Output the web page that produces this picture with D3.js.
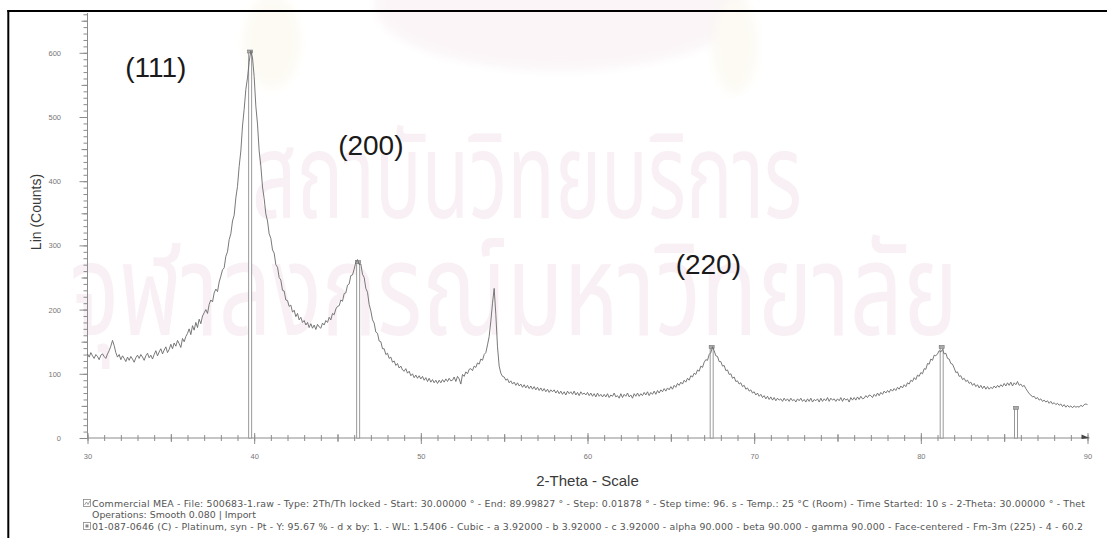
<!DOCTYPE html>
<html>
<head>
<meta charset="utf-8">
<script src="https://cdn.jsdelivr.net/npm/d3@7"></script>
<style>
  body { margin: 0; background: #fff; }
  svg { display: block; font-family: "Liberation Sans", Arial, sans-serif; }
</style>
</head>
<body>
<svg id="chart" width="1107" height="538"></svg>
<script>
// Scan: 2-theta from 30.0 deg in 0.1 deg steps, intensity in counts
const scanStart = 30.0;
const scanStep = 0.1;
const counts = [
  131,126,133,128,124,130,127,122,129,131,
  127,124,131,136,143,152,144,133,126,130,
  122,128,124,119,126,121,127,123,118,125,
  129,124,130,126,121,128,132,125,129,123,
  130,136,128,134,139,131,137,142,133,138,
  146,139,148,143,152,147,141,155,150,158,
  163,170,161,175,168,180,172,185,178,190,
  195,200,194,208,215,212,226,232,228,243,
  252,262,265,283,290,309,318,338,347,374,
  392,423,447,486,512,543,561,586,603,592,
  563,517,489,447,424,391,373,349,338,318,
  311,293,288,270,266,250,246,230,229,215,
  214,205,207,196,199,189,194,184,188,180,
  183,176,180,172,178,171,176,169,177,173,
  171,179,176,183,180,188,184,194,192,201,
  205,206,215,213,225,226,238,240,253,254,
  263,274,278,270,271,255,250,233,227,208,
  198,184,179,165,163,151,150,139,139,130,
  132,124,126,118,120,113,116,109,112,106,
  104,108,101,104,97,100,94,98,93,97,
  92,96,90,94,88,93,87,91,86,90,
  85,90,86,91,87,92,88,93,89,90,
  95,88,96,92,84,99,96,103,100,107,
  108,105,112,110,117,115,123,121,130,133,
  145,158,182,210,233,192,142,112,101,96,
  95,90,92,86,89,84,87,82,86,81,
  84,79,83,78,82,77,81,76,80,75,
  79,74,78,73,77,72,76,71,75,72,
  75,70,74,69,73,68,72,67,73,69,
  72,68,73,67,71,66,72,68,70,67,
  71,66,70,65,69,64,70,65,68,64,
  68,64,69,63,67,65,70,64,66,62,
  69,63,68,65,70,64,67,62,69,65,
  70,65,69,66,71,67,72,66,71,68,
  73,68,74,70,75,72,77,73,78,75,
  80,76,82,79,85,82,87,84,90,87,
  93,90,97,95,101,99,106,104,112,110,
  118,122,121,130,133,142,136,128,127,119,
  119,112,113,105,106,99,100,93,95,88,
  89,84,86,80,82,76,78,73,75,70,
  72,67,70,65,68,63,66,61,65,60,
  64,59,63,58,62,59,61,57,62,58,
  61,57,62,58,60,56,61,58,62,57,
  60,56,61,57,62,56,60,58,61,56,
  62,57,61,58,63,57,62,59,61,57,
  61,58,63,57,62,59,61,56,63,59,
  63,59,64,60,65,61,62,66,63,67,
  66,63,68,65,70,66,71,68,73,70,
  74,71,76,73,77,74,79,76,81,78,
  83,80,86,84,90,88,94,91,98,96,
  102,100,108,107,116,115,123,121,129,128,
  131,136,134,138,131,132,124,123,116,115,
  109,102,103,96,97,91,93,88,90,85,
  87,82,85,80,83,78,82,77,81,76,
  80,76,79,77,81,78,82,79,83,80,
  85,81,86,82,87,81,86,83,88,82,
  84,80,82,77,73,69,67,64,65,61,
  63,59,61,57,59,56,58,54,57,53,
  55,52,54,51,53,49,52,48,51,48,
  50,47,50,48,49,48,51,49,52,53,
  52
];

// Reference pattern 01-087-0646 (Platinum) stick lines
const refTwoTheta = [39.76, 46.24, 67.45, 81.25, 85.71];
const refCounts = [602, 274, 142, 142, 47];

// Miller-index labels
const hklText = ["(111)", "(200)", "(220)"];
const hklTwoTheta = [34.1, 47.0, 67.25];
const hklCounts = [563, 441, 255];

// Axis ticks
const xMajorTicks = [30, 40, 50, 60, 70, 80, 90];
const yMajorTicks = [0, 100, 200, 300, 400, 500, 600];

const axisTitleX = "2-Theta - Scale";
const axisTitleY = "Lin (Counts)";
const footerLines = [
  "Commercial MEA - File: 500683-1.raw - Type: 2Th/Th locked - Start: 30.00000 \u00b0 - End: 89.99827 \u00b0 - Step: 0.01878 \u00b0 - Step time: 96. s - Temp.: 25 \u00b0C (Room) - Time Started: 10 s - 2-Theta: 30.00000 \u00b0 - Thet",
  "Operations: Smooth 0.080 | Import",
  "01-087-0646 (C) - Platinum, syn - Pt - Y: 95.67 % - d x by: 1. - WL: 1.5406 - Cubic - a 3.92000 - b 3.92000 - c 3.92000 - alpha 90.000 - beta 90.000 - gamma 90.000 - Face-centered - Fm-3m (225) - 4 - 60.2"
];
const watermarkLines = ["สถาบันวิทยบริการ", "จุฬาลงกรณ์มหาวิทยาลัย"];

const svg = d3.select("#chart");
const x = d3.scaleLinear().domain([30, 90]).range([87.5, 1087.5]);
const y = d3.scaleLinear().domain([0, 662]).range([438, 13]);

// ---- background watermark ----
const defs = svg.append("defs");
defs.append("filter").attr("id", "soft").append("feGaussianBlur").attr("stdDeviation", 5);
const emblem = svg.append("g").attr("filter", "url(#soft)");
emblem.append("ellipse").attr("cx", 560).attr("cy", 5).attr("rx", 185).attr("ry", 65).attr("fill", "#fbf5f7");
emblem.append("ellipse").attr("cx", 272).attr("cy", 42).attr("rx", 28).attr("ry", 46).attr("fill", "#fcfaf3");
emblem.append("ellipse").attr("cx", 735).attr("cy", 45).attr("rx", 22).attr("ry", 48).attr("fill", "#fcfaf3");

const wm = svg.append("g").attr("fill", "#f8f0f4")
  .style("font-family", "'Noto Sans Thai','Noto Sans','DejaVu Sans',sans-serif");
wm.append("text").attr("x", 252).attr("y", 218).attr("font-size", 120)
  .attr("textLength", 550).attr("lengthAdjust", "spacingAndGlyphs").text(watermarkLines[0]);
wm.append("text").attr("x", 70).attr("y", 335).attr("font-size", 128)
  .attr("textLength", 888).attr("lengthAdjust", "spacingAndGlyphs").text(watermarkLines[1]);

// ---- axes ----
const axisColor = "#8c8c8c";
function styleAxis(g) {
  g.selectAll(".tick line").attr("stroke", axisColor);
  g.selectAll(".tick text").attr("fill", "#777").attr("font-size", 7.5)
    .attr("font-family", "'Liberation Sans', Arial, sans-serif");
  g.select(".domain").remove();
}

// y axis: minor every 10, medium every 50, labels every 100
svg.append("g").attr("transform", `translate(${x(30)},0)`)
  .call(d3.axisLeft(y).tickValues(d3.range(0, 661, 10)).tickSize(4).tickFormat(""))
  .call(styleAxis);
svg.append("g").attr("transform", `translate(${x(30)},0)`)
  .call(d3.axisLeft(y).tickValues(d3.range(50, 661, 100)).tickSize(6).tickFormat(""))
  .call(styleAxis);
svg.append("g").attr("transform", `translate(${x(30)},0)`)
  .call(d3.axisLeft(y).tickValues(yMajorTicks).tickSize(8).tickPadding(18.5).tickFormat(d3.format("d")))
  .call(styleAxis);
svg.append("line").attr("x1", x(30)).attr("x2", x(30)).attr("y1", y(0)).attr("y2", y(662))
  .attr("stroke", axisColor);

// x axis: minor every 1 deg, medium every 5, labels every 10
svg.append("g").attr("transform", `translate(0,${y(0) - 3})`)
  .call(d3.axisBottom(x).tickValues(d3.range(30, 90.5, 1)).tickSize(6).tickFormat(""))
  .call(styleAxis);
svg.append("g").attr("transform", `translate(0,${y(0) - 4})`)
  .call(d3.axisBottom(x).tickValues(d3.range(35, 90, 10)).tickSize(8).tickFormat(""))
  .call(styleAxis);
svg.append("g").attr("transform", `translate(0,${y(0) - 5})`)
  .call(d3.axisBottom(x).tickValues(xMajorTicks).tickSize(11).tickPadding(10).tickFormat(d3.format("d")))
  .call(styleAxis);
svg.append("line").attr("x1", x(30)).attr("x2", x(90) + 2).attr("y1", y(0)).attr("y2", y(0))
  .attr("stroke", axisColor);
svg.append("path")
  .attr("d", `M${x(90) - 6},${y(0) - 3.5}L${x(90) + 2},${y(0)}L${x(90) - 6},${y(0) + 1}Z`)
  .attr("fill", "#444");

// ---- reference stick lines ----
const sticks = svg.append("g");
refTwoTheta.forEach((t, i) => {
  sticks.append("rect")
    .attr("x", x(t) - 1.5).attr("y", y(refCounts[i]))
    .attr("width", 3).attr("height", y(0) - y(refCounts[i]))
    .attr("fill", "#fff").attr("stroke", "#8f8f8f").attr("stroke-width", 0.9);
  sticks.append("rect")
    .attr("x", x(t) - 2.5).attr("y", y(refCounts[i]) - 1.5)
    .attr("width", 5).attr("height", 3)
    .attr("fill", "#aaa").attr("stroke", "#777").attr("stroke-width", 0.6);
});

// ---- measured scan ----
const scan = counts.map((c, i) => [scanStart + i * scanStep, c]);
svg.append("path")
  .datum(scan)
  .attr("d", d3.line().x(d => x(d[0])).y(d => y(d[1])))
  .attr("fill", "none").attr("stroke", "#6a6a6a").attr("stroke-width", 0.9)
  .attr("stroke-linejoin", "round");

// ---- Miller index labels ----
svg.append("g").selectAll("text").data(hklText).join("text")
  .attr("x", (d, i) => x(hklTwoTheta[i])).attr("y", (d, i) => y(hklCounts[i]))
  .attr("text-anchor", "middle").attr("font-size", 28).attr("fill", "#1a1a1a")
  .text(d => d);

// ---- axis titles ----
svg.append("text").attr("x", (x(30) + x(90)) / 2).attr("y", 486)
  .attr("text-anchor", "middle").attr("font-size", 15).attr("fill", "#3a3a3a").text(axisTitleX);
svg.append("text").attr("transform", "translate(41,212) rotate(-90)")
  .attr("text-anchor", "middle").attr("font-size", 14).attr("fill", "#3a3a3a").text(axisTitleY);

// ---- footer ----
const footer = svg.append("g").attr("font-size", 9.4).attr("fill", "#555")
  .attr("font-family", "'DejaVu Sans', Verdana, sans-serif");
footer.append("text").attr("x", 92).attr("y", 507)
  .attr("textLength", 993).text(footerLines[0]);
footer.append("text").attr("x", 92).attr("y", 518).text(footerLines[1]);
footer.append("text").attr("x", 92).attr("y", 530)
  .attr("textLength", 991).text(footerLines[2]);
// legend icons
footer.append("rect").attr("x", 83.5).attr("y", 499.5).attr("width", 7).attr("height", 7)
  .attr("fill", "#fff").attr("stroke", "#888").attr("stroke-width", 0.8);
footer.append("path").attr("d", "M84.5,505L86.5,502L88,504.5L90,501")
  .attr("fill", "none").attr("stroke", "#777").attr("stroke-width", 0.7);
footer.append("rect").attr("x", 83.5).attr("y", 522.5).attr("width", 7).attr("height", 7)
  .attr("fill", "#fff").attr("stroke", "#888").attr("stroke-width", 0.8);
footer.append("rect").attr("x", 85.5).attr("y", 524.5).attr("width", 3).attr("height", 3)
  .attr("fill", "#888");

// ---- page frame ----
svg.append("line").attr("x1", 7.3).attr("x2", 1107).attr("y1", 11).attr("y2", 11)
  .attr("stroke", "#000").attr("stroke-width", 2);
svg.append("line").attr("x1", 8.3).attr("x2", 8.3).attr("y1", 10).attr("y2", 538)
  .attr("stroke", "#000").attr("stroke-width", 2);
</script>
</body>
</html>
